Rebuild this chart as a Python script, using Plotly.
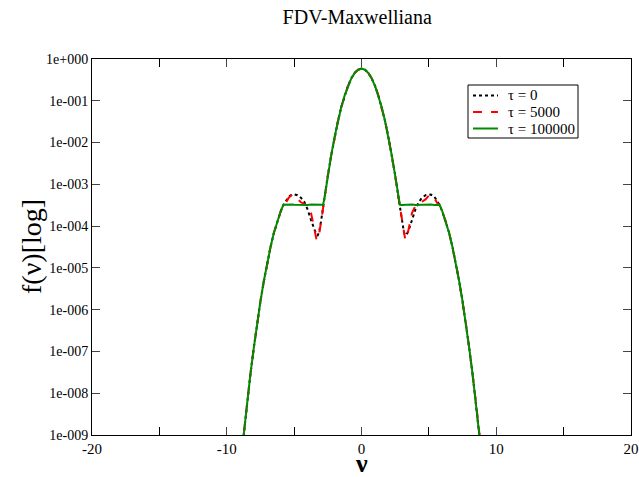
import plotly.graph_objects as go

# velocity grid (v) and values (log10 f)
v = [-9.0, -8.75, -8.5, -8.25, -8.0, -7.75, -7.5, -7.25, -7.0, -6.75, -6.5, -6.25, -6.0,
     -5.8, -5.6, -5.4, -5.15, -5.0, -4.75, -4.5, -4.25, -4.0, -3.75, -3.5, -3.35, -3.25,
     -3.15, -3.0, -2.85, -2.75, -2.5, -2.25, -2.0, -1.75, -1.5, -1.25, -1.0, -0.75, -0.5,
     -0.25, 0.0, 0.25, 0.5, 0.75, 1.0, 1.25, 1.5, 1.75, 2.0, 2.25, 2.5, 2.75, 2.85, 3.0,
     3.15, 3.25, 3.35, 3.5, 3.75, 4.0, 4.25, 4.5, 4.75, 5.0, 5.15, 5.4, 5.6, 5.8, 6.0,
     6.25, 6.5, 6.75, 7.0, 7.25, 7.5, 7.75, 8.0, 8.25, 8.5, 8.75, 9.0]

log_tau0 = [-9.75, -8.97, -8.24, -7.56, -6.93, -6.34, -5.80, -5.32, -4.88, -4.50, -4.16, -3.88, -3.65,
            -3.50, -3.38, -3.29, -3.245, -3.24, -3.26, -3.32, -3.42, -3.60, -3.85, -4.10, -4.20, -4.22,
            -4.15, -3.88, -3.52, -3.33, -2.79, -2.31, -1.87, -1.49, -1.15, -0.87, -0.64, -0.46, -0.33,
            -0.256, -0.23, -0.256, -0.33, -0.46, -0.64, -0.87, -1.15, -1.49, -1.87, -2.31, -2.79, -3.33, -3.52, -3.88,
            -4.15, -4.22, -4.20, -4.10, -3.85, -3.60, -3.42, -3.32, -3.26, -3.24, -3.245, -3.29, -3.38, -3.50, -3.65,
            -3.88, -4.16, -4.50, -4.88, -5.32, -5.80, -6.34, -6.93, -7.56, -8.24, -8.97, -9.75]

log_tau5000 = [-9.75, -8.97, -8.24, -7.56, -6.93, -6.34, -5.80, -5.32, -4.88, -4.50, -4.16, -3.88, -3.65,
               -3.50, -3.44, -3.32, -3.25, -3.27, -3.36, -3.43, -3.47, -3.52, -3.68, -4.05, -4.30, -4.33,
               -4.20, -3.90, -3.55, -3.33, -2.79, -2.31, -1.87, -1.49, -1.15, -0.87, -0.64, -0.46, -0.33,
               -0.256, -0.23, -0.256, -0.33, -0.46, -0.64, -0.87, -1.15, -1.49, -1.87, -2.31, -2.79, -3.33, -3.55, -3.90,
               -4.20, -4.33, -4.30, -4.05, -3.68, -3.52, -3.47, -3.43, -3.36, -3.27, -3.25, -3.32, -3.44, -3.50, -3.65,
               -3.88, -4.16, -4.50, -4.88, -5.32, -5.80, -6.34, -6.93, -7.56, -8.24, -8.97, -9.75]

log_tau100000 = [-9.75, -8.97, -8.24, -7.56, -6.93, -6.34, -5.80, -5.32, -4.88, -4.50, -4.16, -3.88, -3.65,
                 -3.49, -3.485, -3.495, -3.485, -3.49, -3.495, -3.485, -3.49, -3.495, -3.485, -3.49, -3.495, -3.485,
                 -3.49, -3.495, -3.49, -3.33, -2.79, -2.31, -1.87, -1.49, -1.15, -0.87, -0.64, -0.46, -0.33,
                 -0.256, -0.23, -0.256, -0.33, -0.46, -0.64, -0.87, -1.15, -1.49, -1.87, -2.31, -2.79, -3.33, -3.49, -3.495,
                 -3.49, -3.485, -3.495, -3.49, -3.485, -3.495, -3.49, -3.485, -3.495, -3.49, -3.485, -3.495, -3.485, -3.49, -3.65,
                 -3.88, -4.16, -4.50, -4.88, -5.32, -5.80, -6.34, -6.93, -7.56, -8.24, -8.97, -9.75]

series_names = ["τ = 0", "τ = 5000", "τ = 100000"]
series_colors = ["black", "#ff0000", "#008b00"]
series_dash = ["dot", "dash", "solid"]
y_tickvals = [1e-9, 1e-8, 1e-7, 1e-6, 1e-5, 1e-4, 1e-3, 1e-2, 1e-1, 1e0]
y_ticktext = ["1e-009", "1e-008", "1e-007", "1e-006", "1e-005",
              "1e-004", "1e-003", "1e-002", "1e-001", "1e+000"]
x_tickvals = [-20, -10, 0, 10, 20]
x_ticktext = ["-20", "-10", "0", "10", "20"]

serif = "Liberation Serif, Times New Roman, serif"

def to_lin(arr):
    return [10 ** a for a in arr]

fig = go.Figure()
for name, vals, col, dsh in zip(series_names, [log_tau0, log_tau5000, log_tau100000],
                                series_colors, series_dash):
    fig.add_trace(go.Scatter(x=v, y=to_lin(vals), mode="lines", name=name,
                             line=dict(color=col, width=2, dash=dsh)))

# Legend drawn as a framed box (Grace style) in paper coordinates
W, H, L, T = 539.0, 376.0, 92.0, 59.0
def px(xp):
    return (xp - L) / W
def py(yp):
    return (T + H - yp) / H

fig.add_shape(type="rect", xref="paper", yref="paper",
              x0=px(468), x1=px(578), y0=py(138), y1=py(85),
              line=dict(color="black", width=1), fillcolor="white", layer="above")
rows = [95.5, 112, 128.5]
for name, col, dsh, r in zip(series_names, series_colors, series_dash, rows):
    fig.add_shape(type="line", xref="paper", yref="paper",
                  x0=px(473), x1=px(498), y0=py(r), y1=py(r),
                  line=dict(color=col, width=2, dash=dsh), layer="above")
    fig.add_annotation(xref="paper", yref="paper", x=px(506), y=py(r), text=name,
                       showarrow=False, xanchor="left", yanchor="middle",
                       font=dict(family=serif, size=15, color="black"))

# axis titles
fig.add_annotation(xref="paper", yref="paper", x=0.5, y=py(463), text="<b>ν</b>",
                   showarrow=False, xanchor="center", yanchor="middle",
                   font=dict(family=serif, size=26, color="black"))
fig.add_annotation(xref="paper", yref="paper", x=px(31), y=0.5, text="f(ν)[log]",
                   showarrow=False, xanchor="center", yanchor="middle", textangle=-90,
                   font=dict(family=serif, size=28, color="black"))

fig.update_layout(
    width=639, height=477,
    margin=dict(l=92, r=8, t=59, b=42, autoexpand=False),
    paper_bgcolor="white", plot_bgcolor="white",
    title=dict(text="FDV-Maxwelliana", x=0.559, xanchor="center", y=0.965, yanchor="middle",
               font=dict(family=serif, size=20, color="black")),
    font=dict(family=serif, color="black"),
    showlegend=False,
)
fig.update_xaxes(range=[-20, 20], tickvals=x_tickvals, ticktext=x_ticktext,
                 ticks="inside", ticklen=8,
                 showline=True, linecolor="black", linewidth=1, mirror="ticks",
                 showgrid=False, zeroline=False, automargin=False,
                 minor=dict(dtick=5, tick0=0, ticks="inside", ticklen=8, tickcolor="black"),
                 tickfont=dict(family=serif, size=15, color="black"))
fig.update_yaxes(type="log", range=[-9, 0], tickvals=y_tickvals, ticktext=y_ticktext,
                 ticks="inside", ticklen=8, showline=True, linecolor="black", linewidth=1,
                 mirror="ticks", showgrid=False, zeroline=False, automargin=False,
                 tickfont=dict(family=serif, size=14, color="black"))

fig.write_html("out.html", post_script="document.body.style.margin='0';",
               config={"displayModeBar": False})
